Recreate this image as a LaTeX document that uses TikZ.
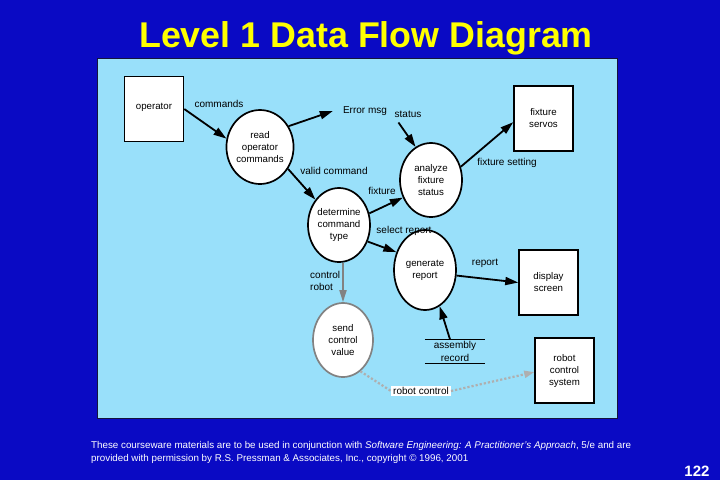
\documentclass[tikz,border=0pt]{standalone}
\usepackage{fontspec}
\setmainfont{Liberation Sans}
\usetikzlibrary{shapes.geometric,arrows.meta}
\definecolor{slideblue}{RGB}{10,10,196}
\definecolor{panelblue}{RGB}{153,224,250}
\definecolor{titleyellow}{RGB}{255,255,0}
\definecolor{flowgray}{RGB}{130,130,130}
\definecolor{dotgray}{RGB}{175,175,175}
\tikzset{
  bubble/.style={ellipse, draw=black, line width=1.7pt, fill=white, inner sep=0pt,
    minimum width=62pt, minimum height=74pt, align=center, font=\fontsize{9.7}{12}\selectfont},
  graybubble/.style={bubble, draw=flowgray},
  extbox/.style={rectangle, draw=black, line width=1.5pt, fill=white, inner sep=0pt,
    minimum width=59pt, minimum height=65pt, align=center, font=\fontsize{9.7}{12}\selectfont},
  lbl/.style={inner sep=1pt, align=left, font=\fontsize{10}{12.5}\selectfont},
  flow/.style={line width=1.8pt, -{Triangle[length=13pt,width=8pt]}},
  grayflow/.style={flow, draw=flowgray, -{Triangle[length=12pt,width=7pt,fill=flowgray]}},
  dotflow/.style={line width=2.2pt, draw=dotgray, dotted, -{Triangle[length=10pt,width=7pt,fill=dotgray]}},
  footer/.style={text=white, font=\fontsize{9.8}{13}\selectfont, anchor=west, inner sep=0pt}
}
\begin{document}
\begin{tikzpicture}[x=1pt,y=-1pt]
\useasboundingbox (0,0) rectangle (720,480);
\fill[slideblue] (0,0) rectangle (720,480);
\node[text=titleyellow, font=\fontsize{35.8}{40}\selectfont\bfseries, inner sep=0pt] (title) at (366,38) {Level 1 Data Flow Diagram};
\filldraw[fill=panelblue, draw={rgb,255:red,20;green,20;blue,60}, line width=0.8pt] (97,58) rectangle (617,418);

% external entities
\node[extbox] (operator) at (154,109) {\raisebox{6pt}{operator}};
\node[extbox] (fixture) at (543.5,118.5) {fixture\\servos};
\node[extbox] (display) at (548.5,282.5) {display\\screen};
\node[extbox] (robot) at (564.5,370.5) {robot\\control\\system};

% processes
\node[bubble] (read) at (260,147) {read\\operator\\commands};
\node[bubble] (determine) at (339,225) {determine\\command\\type};
\node[bubble] (analyze) at (431,180) {analyze\\fixture\\status};
\node[bubble, minimum height=80pt] (generate) at (425,270) {generate\\report};
\node[graybubble, minimum width=60pt] (send) at (343,340) {send\\control\\value};

% data store
\node[lbl, align=center, minimum width=60pt, inner ysep=2pt] (assembly) at (455,351.5) {assembly\\record};
\draw[line width=1.5pt] (assembly.north west) -- (assembly.north east);
\draw[line width=1.5pt] (assembly.south west) -- (assembly.south east);

% free labels / data names
\node[lbl] (errmsg) at (365,111) {Error msg};
\node[lbl] (status) at (408,114) {status};
\node[lbl] at (219,104) {commands};
\node[lbl] at (507,163) {fixture setting};
\node[lbl] at (334,171) {valid command};
\node[lbl] at (382,191) {fixture};
\node[lbl] at (404,231) {select report};
\node[lbl] at (485,263) {report};
\node[lbl, anchor=west] at (309,281) {control\\robot};
\node[lbl, fill=white, inner xsep=2pt, inner ysep=1.5pt] (rclabel) at (421,391) {robot control};

% flows
\draw[flow] (operator.east) -- (read.166);
\draw[flow] (read.36) -- ([xshift=-9pt]errmsg.west);
\draw[flow] ([xshift=5pt,yshift=-4pt]status.south west) -- (analyze.115);
\draw[flow] (analyze.24) -- (fixture.187);
\draw[flow] (read.-38) -- (determine.133);
\draw[flow] (determine.21) -- (analyze.212);
\draw[flow] (determine.-30) -- (generate.148);
\draw[flow] (generate.-10) -- (display.west);
\draw[flow] ([xshift=-5pt]assembly.north) -- (generate.-68);
\draw[grayflow] ([xshift=4pt]determine.south) -- (send.north);
\draw[line width=2.2pt, draw=dotgray, dotted] (send.-61) -- (rclabel.west);
\draw[dotflow] (rclabel.east) -- (robot.183);

% footer
\node[footer] (foot1) at (91,446) {These courseware materials are to be used in conjunction with \textit{Software Engineering: A Practitioner's Approach}, 5/e and are};
\node[footer] (foot2) at (91,459) {provided with permission by R.S. Pressman \& Associates, Inc., copyright © 1996, 2001};
\node[text=white, font=\fontsize{15}{17}\selectfont\bfseries, inner sep=0pt] (page) at (697,471) {122};
\end{tikzpicture}
\end{document}
